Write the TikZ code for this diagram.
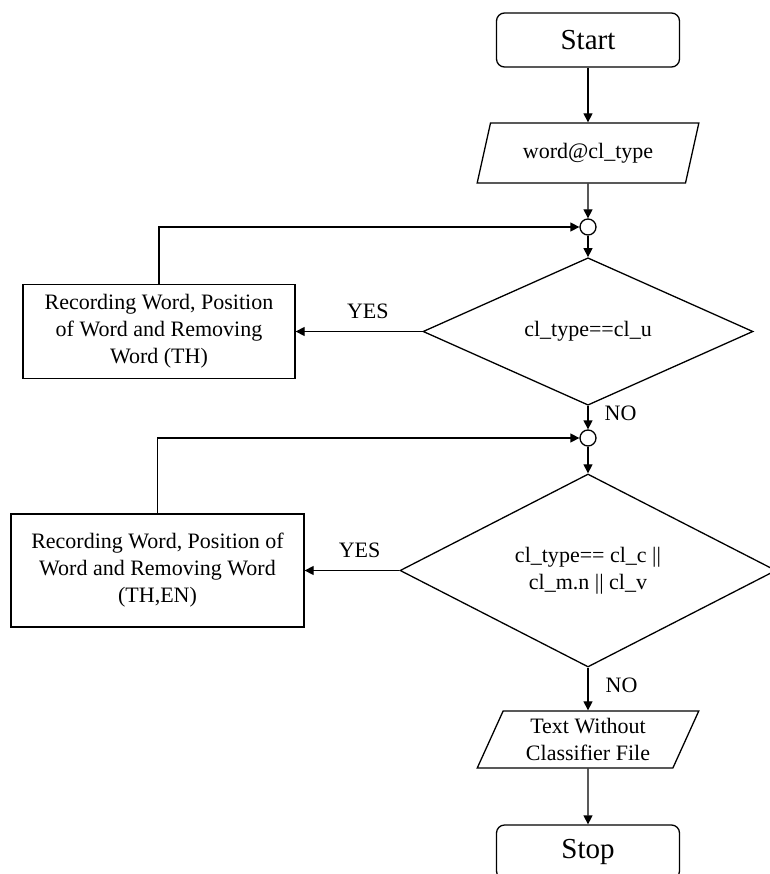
\documentclass[tikz,border=0pt]{standalone}
\usepackage{fontspec}
\setmainfont{Liberation Serif}
\usetikzlibrary{positioning,shapes.geometric,arrows.meta}

\begin{document}
\begin{tikzpicture}[x=1pt, y=-1pt, line width=1.3pt,
        every node/.style={font=\fontsize{22}{27}\selectfont},
        terminal/.style={rectangle, rounded corners=8pt, draw, minimum width=183pt, minimum height=54pt, font=\fontsize{29}{34}\selectfont},
        io/.style={trapezium, trapezium left angle=66, trapezium right angle=114, trapezium stretches=true, draw, minimum width=222pt, minimum height=60pt, align=center, inner sep=0pt},
        junction/.style={circle, draw, minimum size=16pt, inner sep=0pt},
        decision/.style={diamond, draw, inner sep=0pt, align=center},
        process/.style={rectangle, draw, align=center, inner sep=0pt},
        lbl/.style={inner sep=0pt},
        flow/.style={-{Triangle[length=9pt,width=9pt]}}]
    \useasboundingbox (0,0) rectangle (769,874);

    \node[terminal] (start) at (588,40) {Start};
    \node[io, below of=start, node distance=113pt] (input) {word@cl\_type};
    \node[junction, below of=input, node distance=74pt] (j1) {};
    \node[decision, below of=j1, node distance=104.5pt, minimum width=330pt, minimum height=117pt] (d1) {cl\_type==cl\_u};
    \node[junction, below of=d1, node distance=106.5pt] (j2) {};
    \node[decision, below of=j2, node distance=132.5pt, minimum width=376pt, minimum height=165pt] (d2) {cl\_type== cl\_c ||\\cl\_m.n || cl\_v};
    \node[io, below of=d2, node distance=169pt, minimum height=57pt] (output) {Text Without\\Classifier File};
    \node[terminal, below of=output, node distance=112.5pt] (stop) {Stop};

    \node[process, left of=d1, node distance=429pt, minimum width=272pt, minimum height=94pt] (rec1) {Recording Word, Position\\of Word and Removing\\Word (TH)};
    \node[process, left of=d2, node distance=430.5pt, minimum width=293pt, minimum height=113pt] (rec2) {Recording Word, Position of\\Word and Removing Word\\(TH,EN)};

    \path
        (start) edge[flow] (input)
        (input) edge[flow] (j1)
        (j1) edge[flow] (d1)
        (d1) edge[flow] node[lbl, pos=0.33, right=16pt] {NO} (j2)
        (d1) edge[flow] node[lbl, pos=0.43, above=12pt] {YES} (rec1)
        (j2) edge[flow] (d2)
        (d2) edge[flow] node[lbl, pos=0.42, above=12pt] {YES} (rec2)
        (d2) edge[flow] node[lbl, pos=0.41, right=17pt] {NO} (output)
        (output) edge[flow] (stop)
        ;
    \draw[flow] (rec1) |- (j1);
    \draw[flow] (rec2) |- (j2);
\end{tikzpicture}
\end{document}
